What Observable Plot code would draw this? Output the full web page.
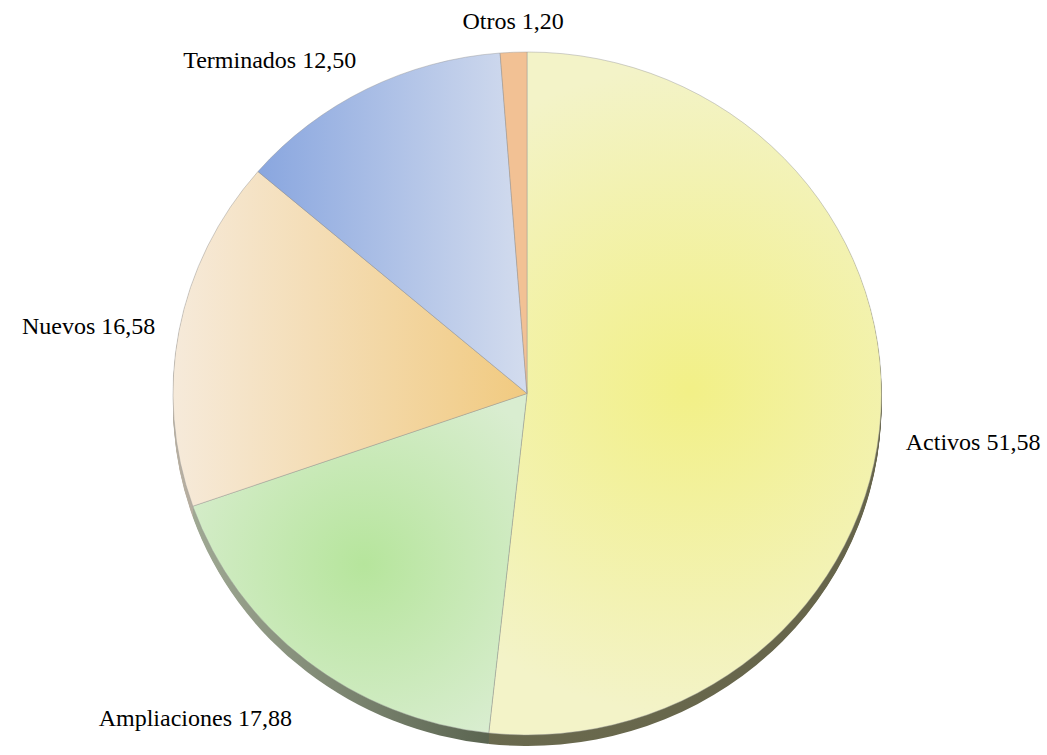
<!DOCTYPE html>
<html><head><meta charset="utf-8">
<script src="https://cdn.jsdelivr.net/npm/d3@7"></script>
<script src="https://cdn.jsdelivr.net/npm/@observablehq/plot@0.6"></script>
<style>html,body{margin:0;padding:0;background:#fff}</style>
</head><body><div id="chart"></div>
<script>
// ---- data ----
const categories = ["Activos", "Ampliaciones", "Nuevos", "Terminados", "Otros"];
const values = [51.58, 17.88, 16.58, 12.50, 1.20];

// ---- styles ----
const faceFill = {
  Activos:      {type: "radial", cx: 0.46, cy: -0.01, r: 0.95, stops: ["#f2f087", "#f3f3c8"]},
  Ampliaciones: {type: "radial", cx: -0.46, cy: 0.50, r: 0.6, stops: ["#b6e59c", "#d9edd0"]},
  Nuevos:       {type: "linear", x1: -1, x2: 0, stops: ["#f6eada", "#f1ca80"]},
  Terminados:   {type: "linear", x1: -0.76, x2: 0, stops: ["#89a6df", "#d3dcee"]},
  Otros:        {type: "solid", color: "#f2c194"}
};
const sideFill = {
  Activos:      {type: "linear", x1: -0.2, x2: 1, stops: ["#6a6a4e", "#66644a"]},
  Ampliaciones: {type: "linear", x1: -1, x2: -0.1, stops: ["#a4ad98", "#5a6450"]},
  Nuevos:       {type: "linear", x1: -1, x2: -0.5, stops: ["#b8b0a2", "#a09888"]},
  Terminados:   {type: "solid", color: "#8c8c8c"},
  Otros:        {type: "solid", color: "#8c8c8c"}
};

const rows = categories.map((c, i) => ({category: c, value: values[i]}));
const arcs = d3.pie().sort(null).value(d => d.value)(rows);
const fmt = v => d3.format(".2f")(v).replace(".", ",");

// label layout computed from arc mid-angles (data space, y up)
const depth = 0.085;
const labelRows = arcs.map(a => {
  const m = (a.startAngle + a.endAngle) / 2;
  const s = Math.sin(m), c = Math.cos(m);
  const r = 1.07;
  return {
    text: `${a.data.category} ${fmt(a.data.value)}`,
    x: r * s,
    y: r * c - (c < 0 ? depth : 0),
    anchor: s > 0.1 ? "start" : s < -0.1 ? "end" : "middle",
    line: c > 0.3 ? "bottom" : c < -0.3 ? "top" : "middle"
  };
});

let uid = 0;
function addGradient(defs, spec) {
  if (spec.type === "solid") return spec.color;
  const id = "g" + (uid++);
  let g;
  if (spec.type === "radial") {
    g = defs.append("radialGradient").attr("id", id).attr("gradientUnits", "userSpaceOnUse")
      .attr("cx", spec.cx).attr("cy", spec.cy).attr("r", spec.r);
  } else {
    g = defs.append("linearGradient").attr("id", id).attr("gradientUnits", "userSpaceOnUse")
      .attr("x1", spec.x1).attr("x2", spec.x2).attr("y1", 0).attr("y2", 0);
  }
  spec.stops.forEach((col, i) => g.append("stop").attr("offset", i / (spec.stops.length - 1)).attr("stop-color", col));
  return `url(#${id})`;
}

function pieMark(index, scales, vals, dimensions, context) {
  const sx = scales.x, sy = scales.y;
  const cx = sx(0), cy = sy(0);
  const rx = sx(1) - sx(0), ry = sy(-1) - sy(0);
  const g = d3.select(context.document.createElementNS("http://www.w3.org/2000/svg", "g"));
  const defs = g.append("defs");
  const arc = d3.arc().innerRadius(0).outerRadius(1);
  const thick = 11 / ry; // side wall thickness in unit space
  const unit = g.append("g").attr("transform", `translate(${cx},${cy}) scale(${rx},${ry})`);
  // side wall: slices swept downward
  const steps = 12;
  for (let k = steps; k >= 1; k--) {
    const off = thick * k / steps;
    unit.append("g").attr("transform", `translate(0,${off})`)
      .selectAll("path").data(arcs).join("path")
      .attr("d", arc)
      .attr("fill", d => addGradient(defs, sideFill[d.data.category]));
  }
  // top face
  unit.append("g").selectAll("path").data(arcs).join("path")
    .attr("d", arc)
    .attr("fill", d => addGradient(defs, faceFill[d.data.category]))
    .attr("stroke", "rgba(150,150,150,0.55)")
    .attr("stroke-width", 0.8)
    .attr("vector-effect", "non-scaling-stroke");
  return g.node();
}

const textOpts = {x: "x", y: "y", text: "text", fontSize: 24, fill: "#000", fontFamily: "'Liberation Serif', 'Times New Roman', serif"};
const chart = Plot.plot({
  width: 1047,
  height: 755,
  margin: 0,
  x: {domain: [-1, 1], range: [173, 881], axis: null},
  y: {domain: [-1, 1], range: [735, 52], axis: null},
  style: {fontFamily: "'Liberation Serif', 'Times New Roman', serif", background: "#fff"},
  marks: [
    pieMark,
    Plot.text(labelRows.filter(d => d.anchor === "start"), {...textOpts, textAnchor: "start", lineAnchor: "middle"}),
    Plot.text(labelRows.filter(d => d.anchor === "end" && d.line === "middle"), {...textOpts, textAnchor: "end", lineAnchor: "middle"}),
    Plot.text(labelRows.filter(d => d.anchor === "end" && d.line === "top"), {...textOpts, textAnchor: "end", lineAnchor: "top"}),
    Plot.text(labelRows.filter(d => d.anchor === "end" && d.line === "bottom"), {...textOpts, textAnchor: "end", lineAnchor: "bottom"}),
    Plot.text(labelRows.filter(d => d.anchor === "middle"), {...textOpts, textAnchor: "middle", lineAnchor: "bottom"})
  ]
});
document.getElementById("chart").append(chart);
</script>
</body></html>
